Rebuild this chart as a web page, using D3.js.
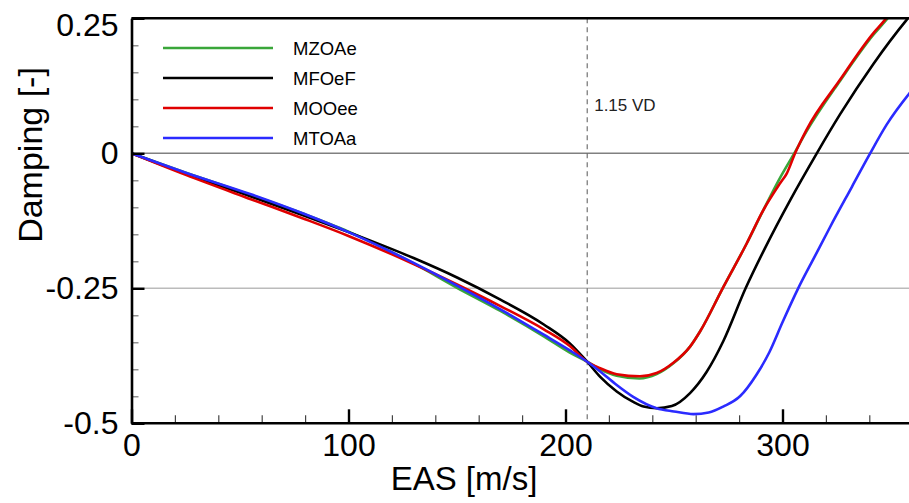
<!DOCTYPE html>
<html>
<head>
<meta charset="utf-8">
<script src="https://cdn.jsdelivr.net/npm/d3@7"></script>
<style>
  body { margin: 0; background: #fff; }
  text { font-family: "Liberation Sans", Arial, sans-serif; }
</style>
</head>
<body>
<script>
// series names and colours (legend order)
var seriesNames = ['MZOAe', 'MFOeF', 'MOOee', 'MTOAa'];
var seriesColors = ['#3aa63a', '#000000', '#e00000', '#2b2bff'];

// EAS [m/s] and damping [-]
var easGreen = [0, 25, 55, 80, 100, 130, 150, 170, 190, 202, 210, 216, 223.6, 234, 242, 249.7, 257.4, 262, 272.3, 283.5, 291.2, 298.8, 305, 311, 326.5, 341.8, 348.5, 355];
var dampGreen = [0, -0.036, -0.077, -0.113, -0.145, -0.204, -0.249, -0.292, -0.339, -0.369, -0.386, -0.400, -0.412, -0.417, -0.409, -0.389, -0.358, -0.330, -0.251, -0.167, -0.105, -0.046, -0.003, 0.040, 0.134, 0.219, 0.25, 0.285];

var easBlack = [0, 25, 55, 80, 100, 130, 150, 170, 190, 202, 210, 216, 223.6, 231, 236, 242, 249, 257.4, 265, 272.7, 283, 292, 303.5, 315.8, 326.5, 341.8, 357.2, 362];
var dampBlack = [0, -0.038, -0.080, -0.116, -0.146, -0.194, -0.230, -0.271, -0.317, -0.352, -0.386, -0.414, -0.441, -0.460, -0.469, -0.472, -0.468, -0.444, -0.405, -0.348, -0.25, -0.175, -0.087, 0, 0.072, 0.165, 0.247, 0.27];

var easRed = [0, 25, 55, 80, 100, 130, 150, 170, 190, 202, 210, 216, 223.6, 234.3, 242, 249.7, 257.4, 262, 272.3, 283.5, 291.2, 298.8, 302, 305.8, 308, 311, 326.5, 341.8, 347.2, 353];
var dampRed = [0, -0.040, -0.085, -0.122, -0.153, -0.205, -0.243, -0.283, -0.326, -0.357, -0.386, -0.398, -0.409, -0.413, -0.407, -0.388, -0.358, -0.330, -0.251, -0.167, -0.105, -0.056, -0.037, 0, 0.019, 0.043, 0.136, 0.222, 0.247, 0.28];

var easBlue = [0, 25, 55, 80, 100, 130, 150, 170, 190, 202, 210, 216, 223.6, 231.2, 242, 250, 259, 266, 272.7, 280.4, 288, 294, 300, 307, 315, 322, 332, 340, 348, 358.5, 362];
var dampBlue = [0, -0.036, -0.076, -0.113, -0.146, -0.203, -0.245, -0.289, -0.336, -0.365, -0.386, -0.404, -0.429, -0.451, -0.472, -0.478, -0.483, -0.480, -0.469, -0.450, -0.410, -0.368, -0.313, -0.252, -0.190, -0.136, -0.062, -0.003, 0.053, 0.111, 0.128];

var xMajorTicks = [0, 100, 200, 300];
var xMinorTicks = [20, 40, 60, 80, 120, 140, 160, 180, 220, 240, 260, 280, 320, 340];
var yMajorTicks = [-0.5, -0.25, 0, 0.25];
var yMinorTicks = [-0.45, -0.4, -0.35, -0.3, -0.2, -0.15, -0.1, -0.05, 0.05, 0.1, 0.15, 0.2];
var yGridValues = [0, -0.25];
var vdSpeed = 210;
var vdLabel = '1.15 VD';

var xValues = [easGreen, easBlack, easRed, easBlue];
var yValues = [dampGreen, dampBlack, dampRed, dampBlue];

var W = 909, H = 503;
var svg = d3.select('body').append('svg').attr('width', W).attr('height', H);

var x = d3.scaleLinear().domain([0, 360]).range([131.5, 912.7]);
var y = d3.scaleLinear().domain([-0.5, 0.25]).range([423.3, 18.3]);

svg.append('clipPath').attr('id', 'plotClip')
    .append('rect')
    .attr('x', x(0)).attr('y', y(0.25))
    .attr('width', x(360) - x(0)).attr('height', y(-0.5) - y(0.25));

// grid lines
svg.selectAll('line.grid')
    .data(yGridValues)
    .enter().append('line')
    .attr('class', 'grid')
    .attr('x1', x(0)).attr('x2', W)
    .attr('y1', function (d) { return y(d); })
    .attr('y2', function (d) { return y(d); })
    .attr('stroke', function (d) { return d === 0 ? '#808080' : '#bbbbbb'; })
    .attr('stroke-width', 1.6);

// 1.15 VD line
svg.append('line')
    .attr('x1', x(vdSpeed)).attr('x2', x(vdSpeed))
    .attr('y1', y(0.25)).attr('y2', y(-0.5))
    .attr('stroke', '#666').attr('stroke-width', 1.1)
    .attr('stroke-dasharray', '5,4');
svg.append('text')
    .attr('x', x(vdSpeed) + 7).attr('y', 111)
    .attr('font-size', 17).attr('fill', '#222')
    .text(vdLabel);

// minor ticks
svg.append('g')
    .attr('transform', 'translate(0,' + y(-0.5) + ')')
    .call(d3.axisBottom(x).tickValues(xMinorTicks).tickSize(-8).tickSizeOuter(0).tickFormat(''))
    .call(function (g) {
        g.select('.domain').remove();
        g.selectAll('.tick line').attr('stroke', '#444').attr('stroke-width', 1.2);
    });
svg.append('g')
    .attr('transform', 'translate(' + x(0) + ',0)')
    .call(d3.axisLeft(y).tickValues(yMinorTicks).tickSize(-7).tickSizeOuter(0).tickFormat(''))
    .call(function (g) {
        g.select('.domain').remove();
        g.selectAll('.tick line').attr('stroke', '#777').attr('stroke-width', 1.2);
    });

// curves
var line = d3.line()
    .x(function (d) { return x(d[0]); })
    .y(function (d) { return y(d[1]); })
    .curve(d3.curveMonotoneX);

svg.append('g').attr('clip-path', 'url(#plotClip)')
    .selectAll('path')
    .data(seriesNames)
    .enter().append('path')
    .attr('fill', 'none')
    .attr('stroke', function (d, i) { return seriesColors[i]; })
    .attr('stroke-width', 2.6)
    .attr('d', function (d, i) {
        return line(d3.zip(xValues[i], yValues[i]));
    });

// major axes
var fmtY = function (d) { return d === 0 ? '0' : String(d); };
svg.append('g')
    .attr('transform', 'translate(0,' + y(-0.5) + ')')
    .call(d3.axisBottom(x).tickValues(xMajorTicks).tickSize(-14).tickSizeOuter(0).tickPadding(10).tickFormat(d3.format('d')))
    .call(function (g) {
        g.select('.domain').attr('stroke-width', 2.6).attr('d', 'M' + x(0) + ',0H' + W);
        g.selectAll('.tick line').attr('stroke-width', 2.4);
        g.selectAll('.tick text').attr('font-size', 32).attr('fill', '#000')
            .attr('font-family', '"Liberation Sans", Arial, sans-serif');
    });
svg.append('g')
    .attr('transform', 'translate(' + x(0) + ',0)')
    .call(d3.axisLeft(y).tickValues(yMajorTicks).tickSize(-13).tickSizeOuter(0).tickPadding(13).tickFormat(fmtY))
    .call(function (g) {
        g.select('.domain').attr('stroke-width', 2.6);
        g.selectAll('.tick line').attr('stroke-width', 2.4);
        g.selectAll('.tick text').attr('font-size', 32).attr('fill', '#000')
            .attr('font-family', '"Liberation Sans", Arial, sans-serif')
            .attr('y', function (d) { return d === 0.25 ? 7 : 0; });
    });

// top frame
svg.append('line')
    .attr('x1', x(0)).attr('x2', W)
    .attr('y1', y(0.25)).attr('y2', y(0.25))
    .attr('stroke', '#000').attr('stroke-width', 2.4);

// axis titles
svg.append('text')
    .attr('x', 464).attr('y', 490)
    .attr('text-anchor', 'middle').attr('font-size', 33)
    .text('EAS [m/s]');
svg.append('text')
    .attr('transform', 'translate(42,155) rotate(-90)')
    .attr('text-anchor', 'middle').attr('font-size', 34)
    .text('Damping [-]');

// legend
var legend = svg.append('g').selectAll('g')
    .data(seriesNames)
    .enter().append('g')
    .attr('transform', function (d, i) { return 'translate(163,' + (48 + i * 30) + ')'; });
legend.append('line')
    .attr('x1', 0).attr('x2', 110)
    .attr('stroke', function (d, i) { return seriesColors[i]; })
    .attr('stroke-width', 2.6);
legend.append('text')
    .attr('x', 130).attr('y', 6.5)
    .attr('font-size', 18.5)
    .text(function (d) { return d; });
</script>
</body>
</html>
